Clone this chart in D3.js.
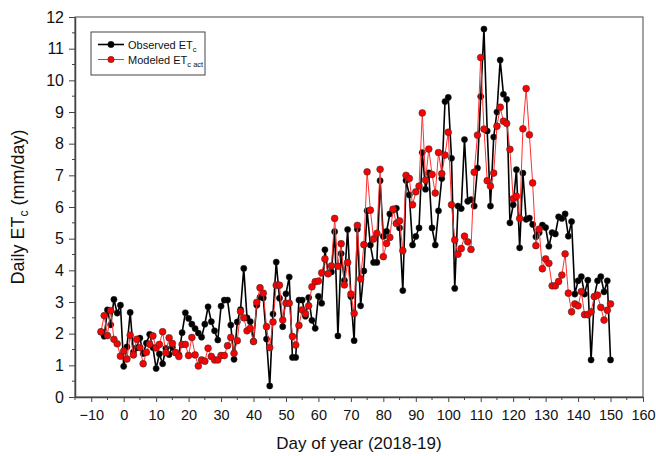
<!DOCTYPE html>
<html><head><meta charset="utf-8">
<script src="https://cdn.jsdelivr.net/npm/d3@7"></script>
<style>body{margin:0;background:#fff}svg{display:block;font-family:Arial,"Liberation Sans",sans-serif}</style>
</head><body><div id="chart"></div>
<script>
const startDay = -7;
const observed = [2.05,1.92,2.75,2.28,3.08,2.65,2.9,0.97,1.58,2.67,1.42,1.55,1.86,1.37,1.7,1.98,1.56,0.9,1.36,1.05,1.54,1.34,1.57,1.4,1.33,2.03,2.66,2.48,2.3,2.16,2.02,1.89,2.3,2.85,2.38,2.09,1.8,2.87,3.06,3.06,2.27,1.19,2.37,2.76,4.06,2.5,2.38,1.76,2.9,3.15,3.13,1.83,0.35,2.62,4.26,3.12,2.22,3.26,3.79,1.25,1.25,3.06,3.06,2.55,3.14,2.42,2.17,3.18,2.96,4.65,3.9,3.95,5.22,1.93,4.53,3.68,5.29,3.17,1.78,5.3,2.88,3.98,5.88,4.8,4.25,4.25,6.83,5.07,5.23,5.78,5.9,5.96,5.34,3.36,6.84,6.38,4.8,5.07,5.34,7.72,6.56,7.08,5.34,4.8,5.88,6.9,9.33,9.46,7.54,3.43,6.03,5.95,8.13,6.18,6.23,6.03,7.23,9.49,11.62,8.4,6.03,8.21,9.0,10.64,9.56,9.4,5.5,6.07,7.18,4.71,7.07,5.61,5.65,5.45,5.06,5.19,5.43,5.35,4.76,5.19,5.15,5.69,5.64,5.78,5.08,5.54,3.25,3.67,3.8,3.25,3.69,1.17,3.17,3.67,3.8,3.32,3.67,1.17];
const modeled = [2.06,2.57,1.94,2.73,1.82,1.68,1.29,1.45,1.2,1.95,1.33,1.82,1.56,1.05,1.41,1.67,1.93,1.55,1.66,2.06,1.4,1.87,1.69,1.4,1.28,1.66,1.66,1.31,1.88,1.33,0.98,1.17,1.13,1.54,1.28,1.17,1.17,1.31,1.31,1.62,1.88,1.38,1.78,2.7,2.5,2.09,2.17,1.75,2.99,3.45,3.28,2.22,1.56,2.37,3.53,3.53,2.43,2.96,2.96,1.91,1.64,2.26,2.75,2.63,2.88,3.48,3.64,3.66,3.92,4.36,3.89,4.14,5.64,4.13,4.84,3.54,4.25,3.25,2.64,5.42,3.73,4.81,7.11,5.9,4.99,5.17,7.19,4.43,4.85,5.04,5.93,5.48,5.56,4.62,7.0,6.9,6.07,6.48,6.66,8.97,6.85,7.83,7.03,6.44,7.72,7.05,7.64,8.36,6.07,4.96,4.51,4.69,5.08,4.9,4.66,7.1,8.27,10.72,8.46,6.83,6.66,7.07,8.55,9.15,8.71,8.64,7.82,6.26,6.34,5.64,8.47,9.74,8.28,6.76,4.78,5.3,4.05,4.36,4.22,3.51,3.51,3.65,3.85,4.52,3.28,2.69,2.94,2.88,3.33,2.6,2.6,2.69,3.17,3.22,2.83,2.43,2.74,2.94];
const xTicks = [-10,0,10,20,30,40,50,60,70,80,90,100,110,120,130,140,150,160];
const yTicks = [0,1,2,3,4,5,6,7,8,9,10,11,12];
const xTitle = "Day of year (2018-19)";

const W = 656, H = 456;
const m = {left:75, right:13, top:17, bottom:59};
const svg = d3.select("#chart").append("svg").attr("width", W).attr("height", H);

const x = d3.scaleLinear().domain([-15,160]).range([m.left, W-m.right]);
const y = d3.scaleLinear().domain([0,12]).range([H-m.bottom, m.top]);

const obs = observed.map((v,i)=>({d:startDay+i, v}));
const mod = modeled.map((v,i)=>({d:startDay+i, v}));

// frame
svg.append("rect").attr("x",m.left).attr("y",m.top).attr("width",W-m.left-m.right).attr("height",H-m.top-m.bottom)
  .attr("fill","none").attr("stroke","#666").attr("stroke-width",1.2);

// minor ticks
const gx = svg.append("g").attr("transform",`translate(0,${H-m.bottom})`);
gx.selectAll("line.minor").data(d3.range(-15,161,5).filter(d=>d%10!==0)).join("line")
  .attr("x1",d=>x(d)).attr("x2",d=>x(d)).attr("y1",0).attr("y2",3).attr("stroke","#444");
gx.call(d3.axisBottom(x).tickValues(xTicks).tickSize(5).tickPadding(8).tickSizeOuter(0))
  .call(g=>g.select(".domain").attr("stroke","#444").attr("stroke-width",1.5))
  .call(g=>g.selectAll(".tick line").attr("stroke","#444"))
  .call(g=>g.selectAll("text").attr("font-size",14.5).attr("font-family","Arial, 'Liberation Sans'").attr("fill","#111"));

const gy = svg.append("g").attr("transform",`translate(${m.left},0)`);
gy.selectAll("line.minor").data(d3.range(0.5,12,1)).join("line")
  .attr("x1",0).attr("x2",-3).attr("y1",d=>y(d)).attr("y2",d=>y(d)).attr("stroke","#444");
gy.call(d3.axisLeft(y).tickValues(yTicks).tickSize(6).tickPadding(5).tickSizeOuter(0))
  .call(g=>g.select(".domain").attr("stroke","#444").attr("stroke-width",1.5))
  .call(g=>g.selectAll(".tick line").attr("stroke","#444"))
  .call(g=>g.selectAll("text").attr("font-size",16).attr("font-family","Arial, 'Liberation Sans'").attr("fill","#111"));

// titles
svg.append("text").attr("x",(m.left+W-m.right)/2).attr("y",449).attr("text-anchor","middle")
  .attr("font-size",17).attr("fill","#111").text(xTitle);
const yt = svg.append("text").attr("transform",`translate(24,${(m.top+H-m.bottom)/2}) rotate(-90)`)
  .attr("text-anchor","middle").attr("font-size",18).attr("fill","#111");
yt.append("tspan").text("Daily ET");
yt.append("tspan").attr("font-size",12).attr("dy",4).text("c");
yt.append("tspan").attr("dy",-4).text(" (mm/day)");

const line = d3.line().x(d=>x(d.d)).y(d=>y(d.v));
// observed
svg.append("path").datum(obs).attr("d",line).attr("fill","none").attr("stroke","#000").attr("stroke-width",1.6);
svg.append("g").selectAll("circle").data(obs).join("circle")
  .attr("cx",d=>x(d.d)).attr("cy",d=>y(d.v)).attr("r",3.1).attr("fill","#000").attr("stroke","#222").attr("stroke-width",0.5);
// modeled
svg.append("path").datum(mod).attr("d",line).attr("fill","none").attr("stroke","#ff3030").attr("stroke-width",1);
svg.append("g").selectAll("circle").data(mod).join("circle")
  .attr("cx",d=>x(d.d)).attr("cy",d=>y(d.v)).attr("r",3.4).attr("fill","#ff0000").attr("stroke","#333").attr("stroke-width",0.6);

// legend
const lg = svg.append("g");
lg.append("rect").attr("x",91).attr("y",32).attr("width",114).attr("height",43).attr("fill","#fff").attr("stroke","#444").attr("stroke-width",1);
const items = [{main:"Observed ET",sub:"c",col:"#000",lw:1.6,stroke:"#222"},{main:"Modeled ET",sub:"c act",col:"#ff0000",lw:1,stroke:"#333"}];
items.forEach((it,i)=>{
  const yy = 44.5 + i*15;
  lg.append("line").attr("x1",98).attr("x2",124).attr("y1",yy).attr("y2",yy).attr("stroke",i?"#ff3030":"#000").attr("stroke-width",it.lw);
  lg.append("circle").attr("cx",111).attr("cy",yy).attr("r",3.2).attr("fill",it.col).attr("stroke",it.stroke).attr("stroke-width",0.5);
  const t = lg.append("text").attr("x",128).attr("y",yy+4).attr("font-size",11).attr("fill","#111");
  t.append("tspan").text(it.main);
  t.append("tspan").attr("font-size",7.5).attr("dy",3).text(it.sub);
});
</script></body></html>
